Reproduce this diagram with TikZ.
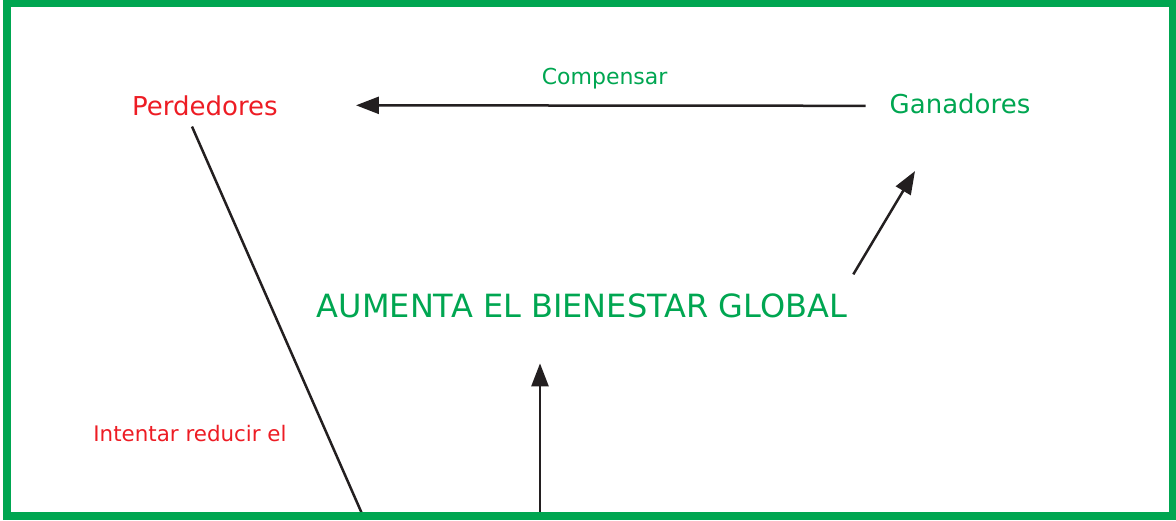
\documentclass[tikz,border=0pt]{standalone}
\usepackage{fontspec}
\setmainfont{DejaVu Sans}
\usetikzlibrary{arrows.meta, calc}
\definecolor{gaingreen}{RGB}{0, 166, 81}
\definecolor{lossred}{RGB}{237, 28, 36}
\definecolor{inkblack}{RGB}{35, 31, 32}

\begin{document}
\begin{tikzpicture}[
  x=1pt, y=-1pt,
  tag/.style={inner sep=0pt, anchor=base},
  link/.style={draw=inkblack, line width=2.5pt},
  flow/.style={link, -{Triangle[length=23pt, width=17pt]}},
]
  \useasboundingbox (0,0) rectangle (1176,520);

  \node[tag, text=lossred, font=\fontsize{26}{31}\selectfont] (perd) at (205,115) {Perdedores};
  \node[tag, text=gaingreen, font=\fontsize{26}{31}\selectfont] (gain) at (960,113) {Ganadores};
  \node[tag, text=gaingreen, font=\fontsize{32}{38}\selectfont] (bien) at (582,317) {AUMENTA EL BIENESTAR GLOBAL};
  \node[tag, text=lossred, font=\fontsize{21.4}{26}\selectfont] (reduce) at (190,441) {Intentar reducir el};

  \coordinate (vbase) at (540,516);
  \coordinate (lossend) at (363,516);

  % compensation from winners to losers
  \draw[flow] ([xshift=-24pt, yshift=-2.5pt]gain.west) -- ([xshift=78pt]perd.east)
    node[pos=0.512, above=15pt, inner sep=0pt, text=gaingreen, font=\fontsize{22}{26}\selectfont] (comp) {Compensar};
  \draw[flow] ([xshift=6pt, yshift=18.7pt]bien.north east) -- ([xshift=-45pt, yshift=-57.5pt]gain.south);
  \draw[flow] (vbase) -- ([xshift=-42pt, yshift=-45.7pt]bien.south);
  \draw[link] ([xshift=-13pt, yshift=-11pt]perd.south) -- (lossend);

  % green frame
  \draw[gaingreen, line width=7.5pt] (7,3.5) rectangle (1173,516);
\end{tikzpicture}
\end{document}
